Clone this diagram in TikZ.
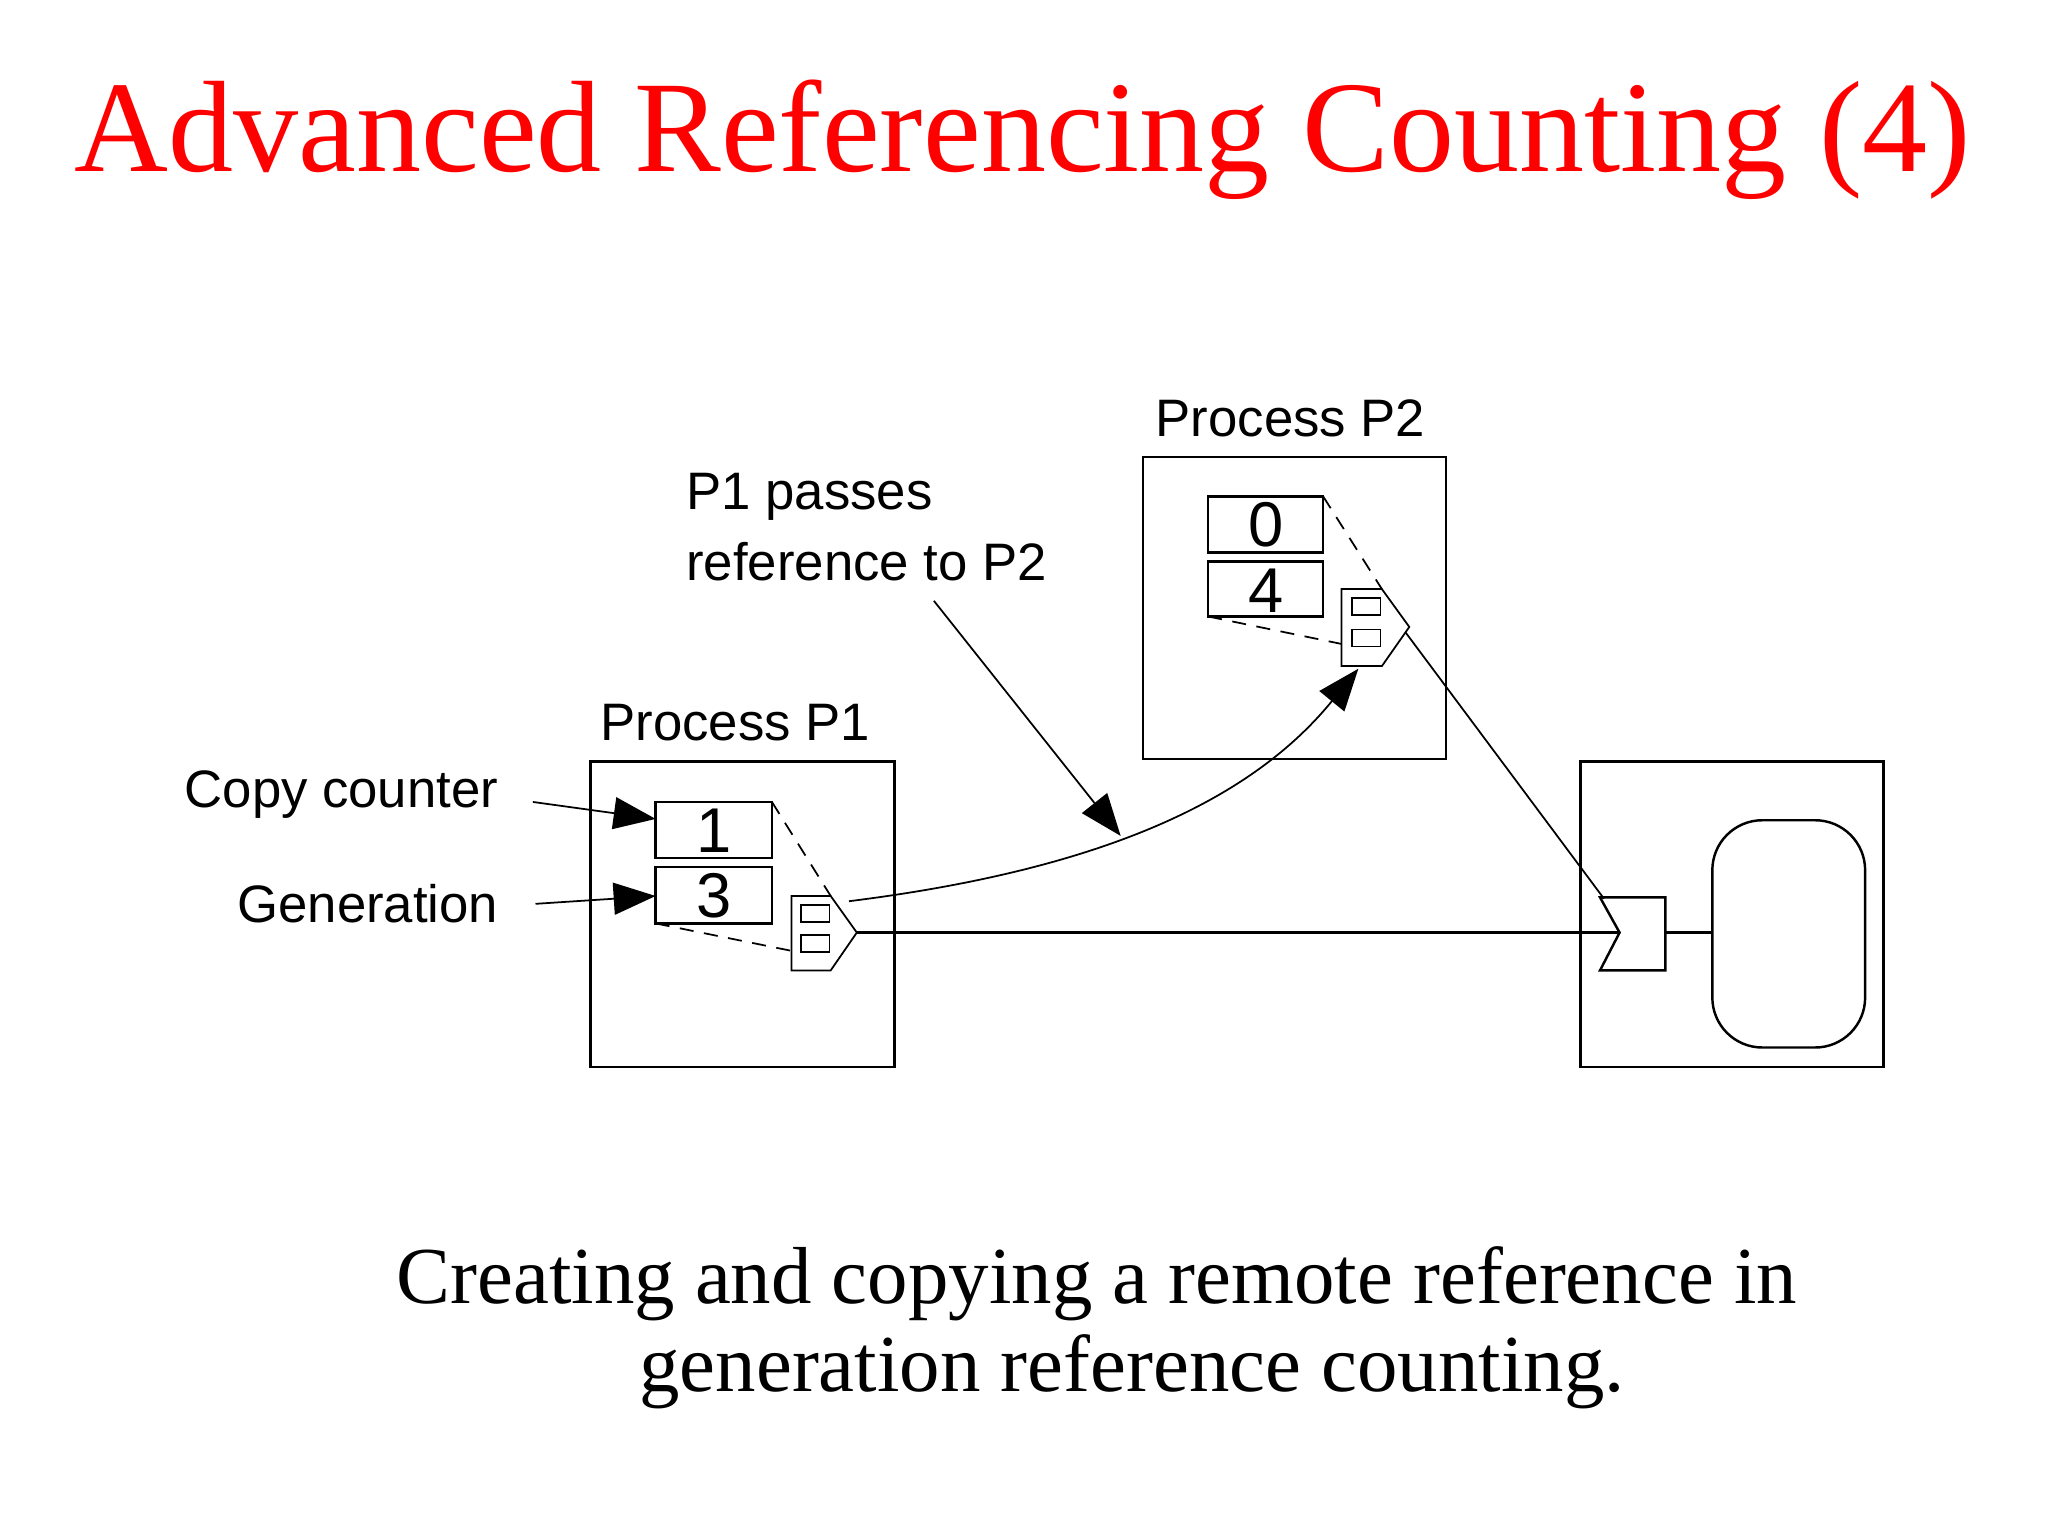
\documentclass[tikz,border=0pt]{standalone}
\usepackage{fontspec}
\setmainfont{Liberation Serif}
\newfontfamily\sansf{Liberation Sans}
\usetikzlibrary{arrows.meta}
\begin{document}
\begin{tikzpicture}[x=0.013061cm,y=-0.013061cm,
  thinl/.style={line width=0.5pt},
  box/.style={draw,line width=0.7pt},
  dsh/.style={line width=0.5pt,dash pattern=on 4pt off 3pt},
  lbl/.style={font=\sansf\fontsize{15}{18}\selectfont,inner sep=0pt},
  num/.style={font=\sansf\fontsize{18}{20}\selectfont,inner sep=0pt},
  big/.style={-{Triangle[length=0.42cm,width=0.32cm]},line width=0.5pt}]
\useasboundingbox (0,0) rectangle (1568,1176);
\node[text=red,font=\fontsize{37}{44}\selectfont,inner sep=0pt] (title) at (783,107) {Advanced Referencing Counting (4)};
% P1
\node[lbl] (p1l) at (563,553) {Process P1};
\draw[box] (452,583) rectangle (685,817);
\draw[box] (502,614) rectangle (591,657);
\node[num] (n1) at (546.5,636) {1};
\draw[box] (502,664) rectangle (591,707);
\node[num] (n3) at (546.5,686) {3};
\coordinate (c1in) at (502,627);
\coordinate (g1in) at (502,686);
\draw[thinl] (606,686) -- (636,686) -- (656,714) -- (636,743) -- (606,743) -- cycle;
\draw[thinl] (613,693) rectangle (635,706) (613,716) rectangle (635,729);
\draw[dsh] (591,614) -- (636,686);
\draw[dsh] (502,707) -- (606,728);
\coordinate (t1) at (656,714);
% P2
\node[lbl] (p2l) at (988,320) {Process P2};
\draw[box] (875,350) rectangle (1107,581);
\draw[box] (925,380) rectangle (1013,423);
\node[num] (n0) at (969,402) {0};
\draw[box] (925,430) rectangle (1013,472);
\node[num] (n4) at (969,452) {4};
\draw[thinl] (1027,451) -- (1058,451) -- (1079,480) -- (1058,510) -- (1027,510) -- cycle;
\draw[thinl] (1035,458) rectangle (1057,471) (1035,482) rectangle (1057,495);
\draw[dsh] (1013,380) -- (1058,451);
\draw[dsh] (925,472) -- (1027,493);
\coordinate (r2) at (1040,512);
% object
\draw[box] (1210,583) rectangle (1442,817);
\draw[box] (1225,687) -- (1275,687) -- (1275,743) -- (1225,743) -- (1240,714) -- cycle;
\draw[box,rounded corners=0.5cm] (1311,628) rectangle (1428,802);
\draw[line width=0.7pt] (1275,714) -- (1311,714);
\draw[line width=0.7pt] (t1) -- (1240,714);
\draw[thinl] (1076,484) -- (1228,688);
% curve
\draw[big] (650,690) .. controls (850,665) and (960,610) .. (r2);
\node[lbl,align=left,anchor=north west] (pp) at (525,362) {P1 passes\\[2pt]reference to P2};
\coordinate (ppa) at (715,460);
\draw[big] (ppa) -- (858,640);
\node[lbl,anchor=east] (cc) at (382,608) {Copy counter};
\node[lbl,anchor=east] (gen) at (382,692) {Generation};
\draw[big] (408,614) -- (c1in);
\draw[big] (410,692) -- (g1in);
% caption
\node[font=\fontsize{23}{28}\selectfont,anchor=west,inner sep=0pt] (cap1) at (303,983) {Creating and copying a remote reference in};
\node[font=\fontsize{23}{28}\selectfont,anchor=west,inner sep=0pt] (cap2) at (489,1050) {generation reference counting.};
\end{tikzpicture}
\end{document}
